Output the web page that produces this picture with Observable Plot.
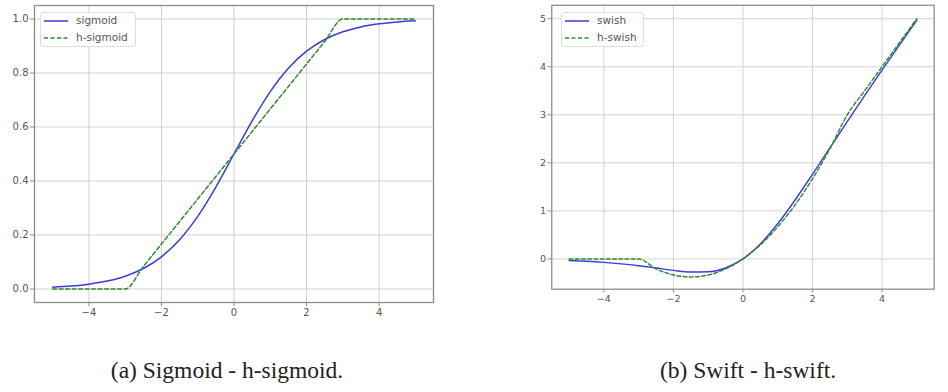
<!DOCTYPE html>
<html>
<head>
<meta charset="utf-8">
<script src="https://cdn.jsdelivr.net/npm/d3@7"></script>
<script src="https://cdn.jsdelivr.net/npm/@observablehq/plot@0.6"></script>
<style>
  html, body { margin: 0; padding: 0; background: #fff; }
  body { width: 948px; height: 392px; overflow: hidden; position: relative; }
  .panel { position: absolute; top: 0; }
  .legend { position: absolute; top: 12px; height: 35px; border: 1px solid #ddd; border-radius: 3px; background: rgba(255,255,255,0.85);
            font-family: "DejaVu Sans", sans-serif; font-size: 10.5px; color: #555; box-sizing: border-box; }
  .legend .row { position: absolute; left: 0; height: 12px; line-height: 12px; white-space: nowrap; }
  .legend svg { position: absolute; left: 2px; top: 0; }
  .legend span { position: absolute; left: 35px; top: -1px; }
  .caption { position: absolute; top: 359px; font-family: "Liberation Serif", "DejaVu Serif", serif; font-size: 23.5px; line-height: 1; color: #222; white-space: nowrap; transform: translateX(-50%); }
</style>
</head>
<body>
<div id="left" class="panel" style="left:0px"></div>
<div id="right" class="panel" style="left:470px"></div>

<div class="legend" style="left:40px; width:96px">
  <div class="row" style="top:2px"><svg width="26" height="12"><line x1="1" x2="25" y1="6" y2="6" stroke="#3b3bdb" stroke-width="1.5"/></svg><span>sigmoid</span></div>
  <div class="row" style="top:19px"><svg width="26" height="12"><line x1="1" x2="25" y1="6" y2="6" stroke="#2e8b2e" stroke-width="1.5" stroke-dasharray="4,2.5"/></svg><span>h-sigmoid</span></div>
</div>
<div class="legend" style="left:561px; width:83px">
  <div class="row" style="top:2px"><svg width="26" height="12"><line x1="1" x2="25" y1="6" y2="6" stroke="#3b3bdb" stroke-width="1.5"/></svg><span>swish</span></div>
  <div class="row" style="top:19px"><svg width="26" height="12"><line x1="1" x2="25" y1="6" y2="6" stroke="#2e8b2e" stroke-width="1.5" stroke-dasharray="4,2.5"/></svg><span>h-swish</span></div>
</div>

<div class="caption" style="left:227px">(a) Sigmoid - h-sigmoid.</div>
<div class="caption" style="left:748px">(b) Swift - h-swift.</div>

<script>
// sample x positions
const xs = [-5, -4.5, -4, -3.5, -3, -2.5, -2, -1.5, -1, -0.5, 0, 0.5, 1, 1.5, 2, 2.5, 3, 3.5, 4, 4.5, 5];
// left panel series
const sigmoid  = [0.0067, 0.0110, 0.0180, 0.0293, 0.0474, 0.0759, 0.1192, 0.1824, 0.2689, 0.3775, 0.5, 0.6225, 0.7311, 0.8176, 0.8808, 0.9241, 0.9526, 0.9707, 0.9820, 0.9890, 0.9933];
const hSigmoid = [0, 0, 0, 0, 0, 0.0833, 0.1667, 0.25, 0.3333, 0.4167, 0.5, 0.5833, 0.6667, 0.75, 0.8333, 0.9167, 1, 1, 1, 1, 1];
// right panel series
const swish  = [-0.0335, -0.0494, -0.0719, -0.1027, -0.1423, -0.1897, -0.2384, -0.2736, -0.2689, -0.1888, 0, 0.3112, 0.7311, 1.2264, 1.7616, 2.3103, 2.8577, 3.3973, 3.9281, 4.4506, 4.9665];
const hSwish = [0, 0, 0, 0, 0, -0.2083, -0.3333, -0.375, -0.3333, -0.2083, 0, 0.2917, 0.6667, 1.125, 1.6667, 2.2917, 3, 3.5, 4, 4.5, 5];
// tick labels
const xTicks = [-4, -2, 0, 2, 4];
const yTicksLeft = [0, 0.2, 0.4, 0.6, 0.8, 1.0];
const yTicksRight = [0, 1, 2, 3, 4, 5];

const BLUE = "#3b3bdb", GREEN = "#2e8b2e";

function panel({width, marginLeft, marginRight, yDomain, yTicks, yFormat, a, b}) {
  const dA = xs.map((x, i) => ({x, y: a[i]}));
  const dB = xs.map((x, i) => ({x, y: b[i]}));
  return Plot.plot({
    width, height: 322,
    marginLeft, marginRight, marginTop: 5, marginBottom: 20,
    style: {fontFamily: "DejaVu Sans, sans-serif", fontSize: "10px", color: "#555", background: "transparent", overflow: "visible"},
    x: {domain: [-5.5, 5.5], ticks: xTicks, tickSize: 4, tickPadding: 2, label: null},
    y: {domain: yDomain, ticks: yTicks, tickSize: 4, tickPadding: 2, label: null, tickFormat: yFormat},
    marks: [
      Plot.gridX(xTicks, {stroke: "#d2d2d2", strokeOpacity: 1, strokeWidth: 1}),
      Plot.gridY(yTicks, {stroke: "#d2d2d2", strokeOpacity: 1, strokeWidth: 1}),
      Plot.line(dA, {x: "x", y: "y", stroke: BLUE, strokeWidth: 1.5, curve: "monotone-x"}),
      Plot.line(dB, {x: "x", y: "y", stroke: GREEN, strokeWidth: 1.5, strokeDasharray: "4,2.5", curve: "monotone-x"}),
      Plot.frame({stroke: "#8a8a8a", strokeWidth: 1.3}),
      Plot.axisX(xTicks, {tickSize: 4, tickPadding: 2, stroke: "#8a8a8a"}),
      Plot.axisY(yTicks, {tickSize: 4, tickPadding: 2, stroke: "#8a8a8a", tickFormat: yFormat})
    ]
  });
}

document.getElementById("left").append(panel({
  width: 470, marginLeft: 34, marginRight: 37,
  yDomain: [-0.05, 1.05], yTicks: yTicksLeft, yFormat: d3.format(".1f"),
  a: sigmoid, b: hSigmoid
}));
document.getElementById("right").append(panel({
  width: 500, marginLeft: 85, marginRight: 15,
  yDomain: [-0.63, 5.28], yTicks: yTicksRight, yFormat: d3.format("d"),
  a: swish, b: hSwish
}));
</script>
</body>
</html>
